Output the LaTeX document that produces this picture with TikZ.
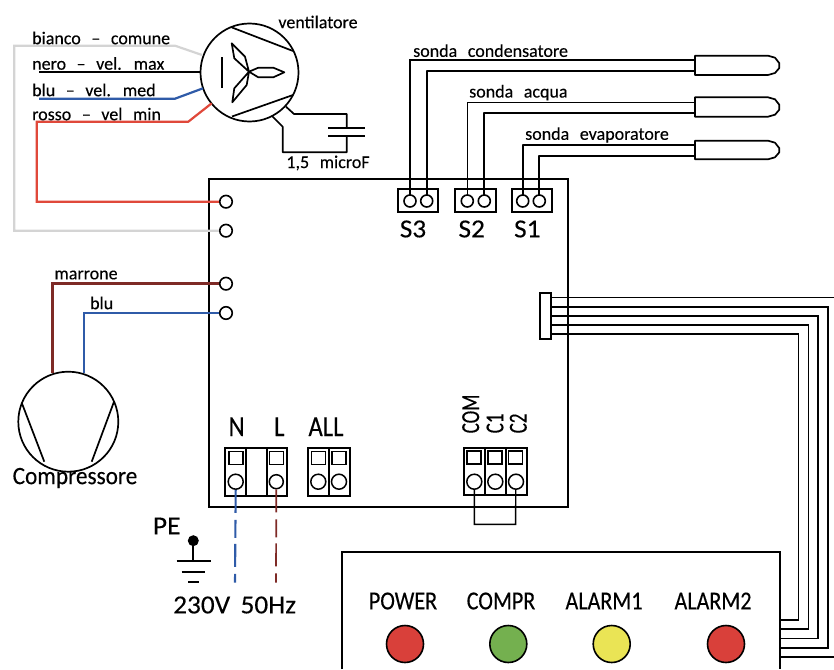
\documentclass[tikz,border=0pt]{standalone}
\usepackage{fontspec}
\setmainfont[WordSpace=2.6,FakeBold=0.25]{Carlito}
\newfontfamily\nf[FakeStretch=0.85,FakeBold=0.25]{Carlito}
\newfontfamily\nn[FakeStretch=0.73,FakeBold=0.25]{Carlito}
\newfontfamily\nw[FakeStretch=1.05,FakeBold=0.25]{Carlito}
\newfontfamily\nc[FakeStretch=0.93,FakeBold=0.25]{Carlito}
\definecolor{wgrey}{HTML}{D4D4D4}
\definecolor{wblue}{HTML}{2F5BA8}
\definecolor{wred}{HTML}{E0483A}
\definecolor{wbrown}{HTML}{7E2A26}
\definecolor{ledred}{HTML}{D9403A}
\definecolor{ledgreen}{HTML}{74B04F}
\definecolor{ledyellow}{HTML}{EAE455}
\tikzset{
 line/.style={line width=1.7pt,black,line join=round},
 thin line/.style={line width=1.4pt,black},
 wire/.style={line width=2.2pt,line join=miter},
 term/.style={circle,draw,line width=1.6pt,fill=white,minimum size=12.5pt,inner sep=0},
 screw/.style={circle,draw,line width=1.5pt,fill=white,minimum size=15pt,inner sep=0},
 sq/.style={rectangle,draw,line width=1.5pt,fill=white,minimum width=14pt,minimum height=13pt,inner sep=0},
 blk/.style={rectangle,draw,line width=2pt,fill=white,inner sep=0},
 lab/.style={inner sep=0,font=\fontsize{18}{20}\selectfont},
 big/.style={inner sep=0,font=\nf\fontsize{29}{31}\selectfont},
 sbig/.style={inner sep=0,font=\nw\fontsize{26}{28}\selectfont},
 vlab/.style={inner sep=0,font=\nw\fontsize{26}{28}\selectfont},
 led/.style={circle,draw,line width=1.6pt,minimum size=37pt,inner sep=0},
 ledlab/.style={inner sep=0,font=\nf\fontsize{26}{28}\selectfont},
 rlab/.style={inner sep=0,font=\nn\fontsize{26}{28}\selectfont,rotate=90,anchor=west},
}
\begin{document}
\begin{tikzpicture}[x=1pt,y=-1pt]
\useasboundingbox (0,0) rectangle (834,669);
\clip (0,0) rectangle (834,669);
% board
\node[draw,line width=1.7pt,minimum width=359pt,minimum height=328pt,inner sep=0] (board) at (388.8,343) {};
% ---- terminals on board edge
\node[term] (t1) at (226,201.7) {};
\node[term] (t2) at (226,230.7) {};
\node[term] (t3) at (226,283.7) {};
\node[term] (t4) at (226,313) {};
% ---- fan
\node[circle,draw,line width=1.7pt,minimum size=98pt,inner sep=0] (fan) at (249.5,72.5) {};
\draw[line] (232,27.5) -- (293,51);
\draw[line] (232,116.5) -- (293,95);
\draw[line width=2pt] (221.7,57) -- (221.7,88);
\draw[line] (249,71.7) -- (258.3,67.7) -- (273.3,67.7) -- (284.3,72.3) -- (273.3,77.3) -- (258.3,77.3) -- cycle;
\draw[line] (249,71.7) -- (245,56.7) -- (231.7,43.3) -- (234.3,58.3) -- cycle;
\draw[line] (249,71.7) -- (246.7,85) -- (232.3,102.3) -- (234.3,88.3) -- cycle;
% fan wires
\coordinate (wa) at (202,55);
\coordinate (wb) at (175,45.7);
\coordinate (wc) at (14.3,45.7);
\coordinate (wd) at (14.3,230.7);
\draw[wire,wgrey] (wa) -- (wb) -- (wc) -- (wd) -- (t2.west);
\coordinate (ba) at (39,72.3);
\draw[wire,black] (ba) -- (fan.west |- ba);
\coordinate (ca) at (39,98.7);
\coordinate (cb) at (175,98.7);
\coordinate (cc) at (203,88.3);
\draw[wire,wblue] (ca) -- (cb) -- (cc);
\coordinate (ra) at (211.7,103.3);
\coordinate (rb) at (188.3,121.7);
\coordinate (rc) at (36.7,121.7);
\coordinate (rd) at (36.7,201.7);
\draw[wire,wred] (ra) -- (rb) -- (rc) -- (rd) -- (t1.west);
% capacitor
\coordinate (ka) at (286,106.7);
\coordinate (kb) at (294,114);
\coordinate (kc) at (346.7,114);
\coordinate (kd) at (346.7,128.3);
\coordinate (ke) at (346.7,136);
\coordinate (kf) at (346.7,152.3);
\coordinate (kg) at (282.7,152.3);
\coordinate (kh) at (282.7,126.7);
\coordinate (ki) at (271.7,115.7);
\draw[line] (ka) -- (kb) -- (kc) -- (kd);
\draw[line] (ke) -- (kf) -- (kg) -- (kh) -- (ki);
\draw[line] (328.3,128.3) -- (365,128.3);
\draw[line] (328.3,136) -- (365,136);
% fan texts
\node[lab,anchor=center] (tvent) at (318,22) {ventilatore};
\node[lab,anchor=center] (tcap) at (328,163) {1,5 microF};
\node[lab,anchor=west] (tb) at (32,38) {bianco -- comune};
\node[lab,anchor=west] (tn) at (32,63.5) {nero -- vel. max};
\node[lab,anchor=west] (tu) at (32,90) {blu -- vel. med};
\node[lab,anchor=west] (tr) at (32,114) {rosso -- vel min};
% ---- probes
\newcommand{\probe}[2]{%
 \draw[line] (695,#1) -- (768,#1) -- (775,#1+2) -- (779.3,#1+7.5) -- (779.3,#2-7) -- (775,#2-2) -- (768,#2) -- (695,#2) -- cycle;}
\probe{55.7}{75}
\probe{97.3}{116.7}
\probe{140.7}{159.3}
\coordinate (p1a) at (695,60);
\coordinate (p1b) at (695,70.7);
\coordinate (p2a) at (695,102.7);
\coordinate (p2b) at (695,113.3);
\coordinate (p3a) at (695,145);
\coordinate (p3b) at (695,156);
% S blocks
\node[blk,minimum width=40pt,minimum height=22.5pt] (s3) at (418.3,200.5) {};
\node[blk,minimum width=41pt,minimum height=22.5pt] (s2) at (475.5,200.5) {};
\node[blk,minimum width=40pt,minimum height=22.5pt] (s1) at (531.7,200.5) {};
\draw[thin line] (410,201) |- (p1a);
\draw[line] (426.7,201) |- (p1b);
\draw[thin line] (467.3,201) |- (p2a);
\draw[line] (484.3,201) |- (p2b);
\draw[line] (522.7,201) |- (p3a);
\draw[line] (539.3,201) |- (p3b);
\foreach \n/\x in {a/410,b/426.7,c/467.3,d/484.3,e/522.7,f/539.3}
  \node[term,minimum size=12pt] (sc\n) at (\x,201) {};
\node[sbig,anchor=center] (ls3) at (413,229) {S3};
\node[sbig,anchor=center] (ls2) at (471.7,229) {S2};
\node[sbig,anchor=center] (ls1) at (527.3,229) {S1};
\node[lab,anchor=west] (ts1) at (413,50.7) {sonda condensatore};
\node[lab,anchor=west] (ts2) at (469,92.7) {sonda acqua};
\node[lab,anchor=west] (ts3) at (525,135) {sonda evaporatore};
% ---- compressor
\node[circle,draw,line width=1.7pt,minimum size=100pt,inner sep=0] (comp) at (68.3,421.7) {};
\draw[line] (21.7,402.7) -- (44.3,461.7);
\draw[line] (114,401.7) -- (91.7,461.7);
\coordinate (ma) at (52.3,373.3);
\coordinate (mb) at (52.3,283.7);
\draw[wire,wbrown,line width=2.6pt] (ma) -- (mb) -- (t3.west);
\coordinate (bb) at (84.3,373.3);
\coordinate (bc) at (84.3,313);
\draw[wire,wblue] (bb) -- (bc) -- (t4.west);
\node[lab,anchor=center] (tm) at (86,275) {marrone};
\node[lab,anchor=center] (tbl) at (101.7,303) {blu};
\node[inner sep=0,font=\nc\fontsize{25}{27}\selectfont,anchor=center] (tc) at (75,478) {Compressore};
% ---- N L block
\node[blk,minimum width=61.7pt,minimum height=48pt] (nl) at (255.8,471.7) {};
\draw[line] (246,447.7) -- (246,495.7);
\draw[line] (266.7,447.7) -- (266.7,495.7);
\node[sq] (qn) at (236.2,457.8) {};
\node[sq] (ql) at (276.7,457.8) {};
\node[screw] (cn) at (235.7,481.7) {};
\node[screw,minimum size=14pt] (cl) at (276.3,481.7) {};
% ALL block
\node[blk,minimum width=42.3pt,minimum height=48pt] (all) at (328.8,471.7) {};
\draw[line] (329.3,447.7) -- (329.3,495.7);
\node[sq] (qa) at (318.7,457.8) {};
\node[sq] (qb) at (339.2,457.8) {};
\node[screw] (ca1) at (318.3,481.7) {};
\node[screw] (ca2) at (339,481.7) {};
\node[big,anchor=center] (ln) at (236.7,426.7) {N};
\node[big,anchor=center] (ll) at (279.3,426.7) {L};
\node[big,anchor=center] (lall) at (326,426.7) {ALL};
% mains dashed
\coordinate (dn) at (235,582.7);
\coordinate (dl) at (276,582.7);
\draw[wblue,line width=2.1pt,dash pattern=on 23pt off 7pt on 18pt off 6pt] (cn.south) -- (dn);
\draw[wbrown,line width=1.7pt,dash pattern=on 23pt off 7pt on 18pt off 6pt] (cl.south) -- (dl);
\node[vlab,anchor=center] (t230) at (201.7,605) {230V};
\node[vlab,anchor=center] (t50) at (268.3,605) {50Hz};
% PE
\node[vlab,anchor=center] (tpe) at (166.7,526) {PE};
\node[circle,fill=black,minimum size=11pt,inner sep=0] (pe) at (193.3,540.7) {};
\coordinate (gn) at (193.3,561);
\draw[line] (pe) -- (gn);
\draw[line] (176.7,561) -- (210.7,561);
\draw[line] (181.7,572.3) -- (205,572.3);
\draw[line width=2pt] (188.3,582.3) -- (199.3,582.3);
% ---- COM block
\coordinate (ja) at (474.3,524.3);
\coordinate (jb) at (515.6,524.3);
\node[blk,minimum width=62.7pt,minimum height=47.3pt] (cblk) at (495.3,471.4) {};
\draw[line] (485,447.7) -- (485,495);
\draw[line] (505.7,447.7) -- (505.7,495);
\node[sq] (q1) at (474.2,457.5) {};
\node[sq] (q2) at (495,457.5) {};
\node[sq] (q3) at (515.5,457.5) {};
\draw[line width=1.4pt] (474.3,481.7) -- (ja) -- (jb) -- (515.8,481.7);
\node[screw] (c1) at (474.3,481.7) {};
\node[screw] (c2) at (495.3,481.7) {};
\node[screw] (c3) at (516,481.7) {};
\node[rlab] (lcom) at (470.7,433.5) {COM};
\node[rlab] (lc1) at (495,433.5) {C1};
\node[rlab] (lc2) at (518.3,433.5) {C2};
% ---- display panel
\coordinate (pa) at (342,669);
\coordinate (pb) at (342,552);
\coordinate (pc) at (780,552);
\coordinate (pd) at (780,669);
\draw[line width=1.7pt] (pa) -- (pb) -- (pc) -- (pd);
% ribbon
\node[blk,minimum width=11pt,minimum height=46.6pt] (rib) at (545.5,316) {};
\coordinate (e1) at (834,297.7);
\coordinate (e6) at (834,656.7);
\coordinate (x6) at (780,656.7);
\draw[thin line] (551,297.7) -- (e1);
\draw[line width=2pt] (551,306.7) -- (828.3,306.7) -- (828.3,647.7) -- (780,647.7);
\draw[thin line] (551,316) -- (818,316) -- (818,638.3) -- (780,638.3);
\draw[thin line] (551,325) -- (808.3,325) -- (808.3,629) -- (780,629);
\draw[line width=1.5pt] (551,334) -- (798.7,334) -- (798.7,620) -- (780,620);
\draw[line width=1.7pt] (x6) -- (e6);
\draw[line width=1.7pt] (568.3,179) -- (568.3,507);
% LEDs
\node[ledlab,anchor=center] (lp) at (403,601) {POWER};
\node[ledlab,anchor=center] (lq) at (501,601) {COMPR};
\node[ledlab,anchor=center] (lr) at (604,601) {ALARM1};
\node[ledlab,anchor=center] (ls) at (713,601) {ALARM2};
\node[led,fill=ledred] (a) at (405,644) {};
\node[led,fill=ledgreen] (b) at (508.3,644) {};
\node[led,fill=ledyellow] (c) at (611.7,644) {};
\node[led,fill=ledred] (d) at (726,644) {};
\end{tikzpicture}
\end{document}
